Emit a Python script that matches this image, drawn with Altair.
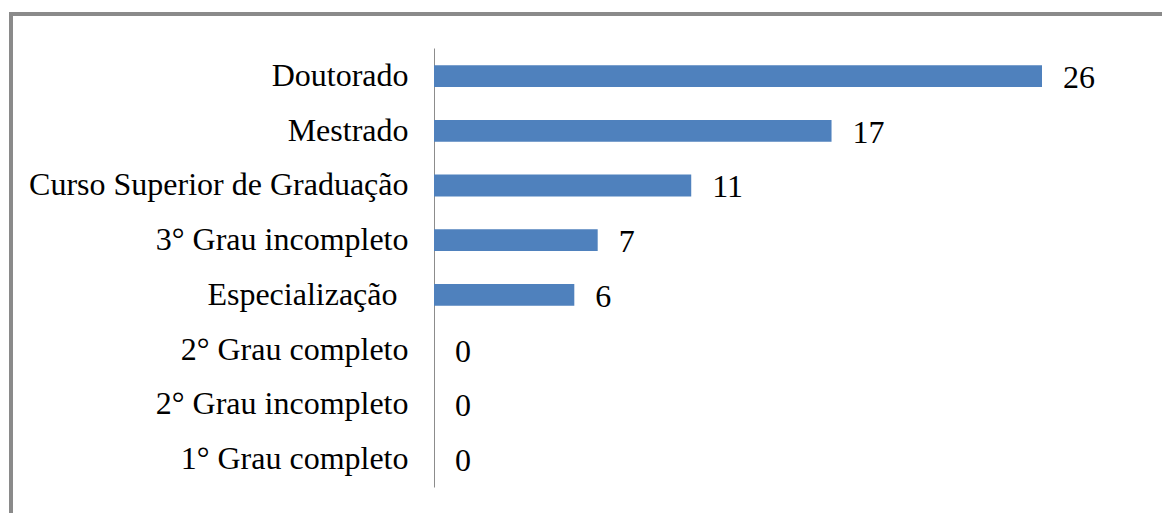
import altair as alt
import pandas as pd

categories = [
    "Doutorado",
    "Mestrado",
    "Curso Superior de Graduação",
    "3° Grau incompleto",
    "Especialização",
    "2° Grau completo",
    "2° Grau incompleto",
    "1° Grau completo",
]
values = [26, 17, 11, 7, 6, 0, 0, 0]

df = pd.DataFrame({"cat": categories, "val": values})

FONT = "Liberation Serif"

y_enc = alt.Y(
    "cat:N",
    sort=categories,
    title=None,
    scale=alt.Scale(paddingInner=0.6, paddingOuter=0.315),
    axis=alt.Axis(
        labelFont=FONT,
        labelFontSize=32,
        labelColor="#000000",
        labelPadding={
            "condition": {"test": "datum.value == 'Especialização'", "value": 37},
            "value": 26,
        },
        ticks=False,
        domainColor="#8c8c8c",
        domainWidth=1,
        labelLimit=600,
    ),
)
x_enc = alt.X(
    "val:Q",
    title=None,
    scale=alt.Scale(domain=[0, 26], nice=False),
    axis=None,
)

bars = alt.Chart(df).mark_bar(color="#4F81BD").encode(x=x_enc, y=y_enc)

labels = alt.Chart(df).mark_text(
    align="left", baseline="middle", dx=21, dy=2, font=FONT, fontSize=32, color="#000000"
).encode(x=x_enc, y=y_enc, text="val:Q")

frame_left = alt.Chart(df).mark_rule(color="#8a8a8a", strokeWidth=3).encode(
    x=alt.value(-423), y=alt.value(-34), y2=alt.value(470)
)
frame_top = alt.Chart(df).mark_rule(color="#8a8a8a", strokeWidth=3).encode(
    x=alt.value(-425), x2=alt.value(730), y=alt.value(-34)
)

chart = (
    alt.layer(frame_left, frame_top, bars, labels)
    .properties(
        width=608,
        height=439,
        autosize=alt.AutoSizeParams(type="none"),
        padding={"left": 434, "top": 48, "right": 120, "bottom": 26},
        background="#ffffff",
    )
    .configure_view(stroke=None)
)

chart.save("out.html", embed_options={"renderer": "svg", "actions": False})
